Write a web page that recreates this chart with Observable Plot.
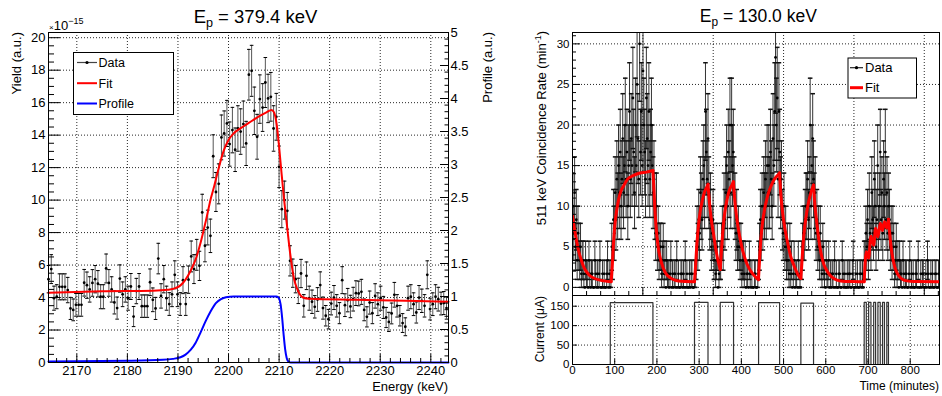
<!DOCTYPE html>
<html>
<head>
<meta charset="utf-8">
<script src="https://cdn.jsdelivr.net/npm/d3@7"></script>
<script src="https://cdn.jsdelivr.net/npm/@observablehq/plot@0.6"></script>
<style>
html,body{margin:0;padding:0;background:#fff;}
#root{position:relative;width:942px;height:396px;overflow:hidden;background:#fff;}
.panel{position:absolute;}
.panel svg{display:block;overflow:visible;}
#overlay{position:absolute;left:0;top:0;pointer-events:none;}
</style>
</head>
<body>
<div id="root"></div>
<script>
const FONT = '"Liberation Sans", Arial, Helvetica, sans-serif';

// ================= LEFT PANEL DATA (Ep = 379.4 keV) =================
const leftTitleEnergy = "379.4 keV";
const energyStart = 2164.4;   // first data bin (keV)
const energyStep = 0.5428;    // bin spacing (keV)
const yieldValues = [
  5.13, 5.75, 3.96, 4.05, 4.66, 4.66, 4.66, 4.46, 3.33, 3.24,
  3.55, 3.55, 3.55, 4.91, 4.76, 4.5, 4.9, 5.13, 4.85, 4.05,
  4.05, 5.79, 4.9, 4.5, 3.7, 3.35, 5.17, 4.2, 4.5, 3.96,
  4.68, 2.83, 4.4, 4.68, 3.47, 3.47, 3.47, 4.94, 3.86, 3.33,
  6.4, 4.1, 5.13, 3.96, 3.6, 4.2, 5.4, 4.2, 3.6, 5.07,
  3.6, 5.1, 6.53, 5.75, 6.63, 5.95, 9.24, 7.19, 8.31, 7.8,
  12.7, 10.5, 11.0, 13.86, 14.1, 14.72, 13.45, 14.31, 13.1, 14.41,
  14.22, 14.68, 13.49, 17.72, 17.96, 15.5, 13.9, 16.22, 15.7, 17.24,
  16.26, 16.36, 14.41, 15.13, 12.05, 9.44, 10.0, 9.34,
  6.26, 5.5, 5.13, 4.41, 5.48, 3.49, 5.34, 3.96, 3.74, 3.43,
  3.88, 4.77, 3.35, 2.88, 2.67, 3.63, 4.0, 3.49, 3.04, 5.07,
  3.53, 3.84, 3.45, 3.9, 4.27, 4.25, 4.35, 3.24, 2.81, 3.69,
  3.04, 4.1, 3.59, 3.96, 3.39, 2.77, 2.5, 3.02, 4.17, 3.49,
  2.88, 2.43, 2.2, 3.96, 4.05, 3.59, 3.08, 4.0, 3.8, 3.49,
  5.4, 3.29, 3.59, 4.05, 3.9, 3.63, 3.66, 3.35
];
const yieldErrors = [
  0.84, 0.89, 0.74, 0.74, 0.8, 0.8, 0.8, 0.78, 0.68, 0.67,
  0.7, 0.7, 0.7, 0.82, 0.81, 0.78, 0.82, 0.84, 0.81, 0.74,
  0.74, 0.89, 0.82, 0.78, 0.71, 0.68, 0.84, 0.76, 0.78, 0.74,
  0.8, 0.62, 0.78, 0.8, 0.69, 0.69, 0.69, 0.82, 0.73, 0.68,
  0.94, 0.75, 0.84, 0.74, 0.7, 0.76, 0.86, 0.76, 0.7, 0.83,
  0.7, 0.84, 0.95, 0.89, 0.95, 0.9, 1.12, 0.99, 1.07, 1.03,
  1.32, 1.2, 1.23, 1.38, 1.39, 1.42, 1.36, 1.4, 1.34, 1.4,
  1.4, 1.42, 1.36, 1.56, 1.57, 1.46, 1.38, 1.49, 1.47, 1.54,
  1.49, 1.5, 1.4, 1.44, 1.28, 1.14, 1.17, 1.13,
  0.93, 0.87, 0.84, 0.78, 0.87, 0.69, 0.85, 0.74, 0.72, 0.69,
  0.73, 0.81, 0.68, 0.63, 0.6, 0.7, 0.74, 0.69, 0.65, 0.83,
  0.7, 0.72, 0.69, 0.73, 0.76, 0.76, 0.77, 0.67, 0.62, 0.71,
  0.65, 0.75, 0.7, 0.74, 0.68, 0.62, 0.59, 0.64, 0.76, 0.69,
  0.63, 0.58, 0.55, 0.74, 0.74, 0.7, 0.65, 0.74, 0.72, 0.69,
  0.86, 0.67, 0.7, 0.74, 0.73, 0.7, 0.71, 0.68
];
// fit curve (energy keV, yield 1e-15)
const yieldFitCurve = [
  [2164.4,4.3],[2175,4.38],[2185,4.42],[2188,4.48],[2189.5,4.58],[2190.5,4.75],[2191.5,5.1],
  [2192.5,5.65],[2193.5,6.35],[2194.5,7.4],[2195.5,8.7],[2196.5,10.1],[2197.2,10.9],[2198,11.9],
  [2199,13.0],[2200,13.7],[2201,14.1],[2202.5,14.45],[2204,14.75],[2206,15.15],[2207.5,15.4],
  [2208.5,15.55],[2209,15.4],[2209.5,14.7],[2210,13.3],[2210.5,11.6],[2211,10.0],[2211.5,8.6],
  [2212,7.2],[2212.5,6.0],[2213,5.1],[2213.5,4.6],[2214,4.25],[2214.7,4.0],[2216,3.92],
  [2225,3.86],[2235,3.8],[2243.5,3.74]
];
// target profile (energy keV, profile a.u.)
const profileCurve = [
  [2164.4,0.015],[2180,0.025],[2187,0.04],[2189,0.055],[2190.5,0.08],[2191.5,0.12],[2192.5,0.19],
  [2193.5,0.3],[2194.5,0.46],[2195.5,0.63],[2196.5,0.78],[2197.5,0.9],[2198.5,0.96],[2199.5,0.99],
  [2201,1.0],[2209.5,1.0],[2210,0.97],[2210.3,0.88],[2210.6,0.68],[2210.9,0.42],[2211.2,0.2],
  [2211.5,0.07],[2211.9,0.01],[2212.3,0],[2243.5,0]
];
const energyDomain = [2164.4, 2243.5];
const yieldDomain = [0, 20.32];
const profileMax = 5;
const energyTicks = [2170, 2180, 2190, 2200, 2210, 2220, 2230, 2240];
const yieldTicks = [0, 2, 4, 6, 8, 10, 12, 14, 16, 18, 20];
const profileTicks = [0, 0.5, 1, 1.5, 2, 2.5, 3, 3.5, 4, 4.5, 5];

// ================= RIGHT PANEL DATA (Ep = 130.0 keV) =================
const rightTitleEnergy = "130.0 keV";
const binMinutes = 2;        // time bin width (min)
const liveMinutes = 0.6;     // counting time per bin (min)
// counts per bin, grouped by beam-on / beam-off periods
const countsOff0 = [6,4,7,3,5,2,4,3,2,3, 1,2,2,1,0,2,1,1,0,2, 1,0,1,1,0,0,2,1,0,1, 0,1,2,0,0,1,0,1,0,0, 1,2,0,1,0];
const countsOn1  = [1,3,2,5,4,7,5,8,6,9, 7,10,6,8,11,7,9,12,8,10, 6,9,13,8,11,9,14,10,7,12, 9,15,11,8,18,10,13,9,16,12, 10,8,14,11,9,13,8,10,12,9, 7];
const countsOff1 = [8,6,4,6,3,4,2,3,3,1, 2,3,1,2,0,2,1,1,0,1, 2,0,1,0,1,1,0,2,0,1, 0,0,1,1,0,1,0,2,0,1, 0,0,1,0,1,1,0,0,1];
const countsOn2  = [1,2,4,3,5,4,7,6,5,8,9,7,13,10,8,11];
const countsOff2 = [7,5,6,3,4,5,2,3,1,2,3,0,1,2];
const countsOn3  = [2,3,4,3,6,5,7,9,6,10,8,12,7,12,9,10];
const countsOff3 = [7,6,4,5,3,4,3,2,3,1, 2,2,1,2,0,1,1,0,2,1, 0,1,0,0,1,1,0,0,1];
const countsOn4  = [2,3,5,4,6,5,7,6,8,6, 9,7,9,7,10,8,6,11,9,13, 17,12,14,8,13,10];
const countsOff4 = [7,8,5,4,6,3,4,2,3,2, 1,3,1,2,0,1,2,0,1,1, 0,2,0,1,0];
const countsOn5  = [2,3,4,4,5,6,6,8,5,7,12,6,9,11,8];
const countsOff5 = [6,7,4,5,3,4,2,4,2,1, 3,2,1,0,2,1,1,2,0,1, 0,1,1,0,2,0,1,0,0,1, 1,0,0,2,1,0,1,0,0,1, 0,1,1,0,0,1,2,0,0,1, 0,1,0,0,1,1,0,1,0,2];
const countsPulsed = [2,4,3,5,2,6,4,3,7,5, 4,8,6,3,5,9,4,6,10,5, 7,4,8,6,10,5,7,4,6];
const countsOff6 = [5,3,4,2,4,3,1,2,3,1, 2,0,2,1,1,0,2,1,0,1, 1,0,0,1,2,0,1,0,1,0, 0,1,1,0,2,0,0,1,0,1, 1,0,0,1,0,2,1,0,0,1, 0,1,0,0,1,1,0,0,1,0];
const countSegments = [countsOff0, countsOn1, countsOff1, countsOn2, countsOff2, countsOn3, countsOff3,
  countsOn4, countsOff4, countsOn5, countsOff5, countsPulsed, countsOff6];

// fit curve pieces [time min, rate 1/min]
const fitOff0 = [[0,8.8],[4,7.4],[8,6.2],[12,5.1],[16,4.2],[20,3.5],[26,2.6],[32,2.0],[40,1.5],[50,1.15],[60,0.95],[75,0.8],[91.5,0.7]];
const fitOn1 = [[91.5,0.7],[94,2.5],[97,5.3],[101,8.0],[105,9.6],[110,11.0],[115,11.9],[120,12.4],[130,13.3],[145,13.8],[160,14.1],[175,14.2],[190.5,14.4]];
const fitOff1 = [[190.5,14.4],[193,12.0],[196,8.9],[200,6.3],[204,4.6],[208,3.6],[214,2.5],[220,1.8],[231,1.2],[245,0.85],[260,0.75],[289,0.7]];
const fitOn2 = [[289,0.7],[291.5,2.6],[294.5,5.2],[298.5,7.7],[302.5,9.3],[307.5,10.7],[312.5,11.7],[317.5,12.3],[321,12.7]];
const fitOff2 = [[321,12.7],[323,11.3],[326,9.6],[330,7.9],[334,6.6],[338,5.2],[342,4.0],[346,3.0],[350,2.2]];
const fitOn3 = [[350,2.2],[352.5,4.3],[355.5,6.5],[359.5,8.7],[363.5,10.1],[368.5,11.4],[373.5,12.2],[378.5,12.7],[381,13.0]];
const fitOff3 = [[381,13.0],[384,11.0],[388,9.0],[392,7.5],[396,6.3],[401,5.0],[406,4.0],[411,3.2],[416,2.6],[421,2.1],[428,1.6],[435,1.2],[440.5,0.95]];
const fitOn4 = [[440.5,0.95],[443,3.3],[446,5.8],[450,7.9],[455,9.6],[460,10.8],[466,11.9],[472,12.7],[478,13.3],[484,13.7],[490.5,14.1]];
const fitOff4 = [[490.5,14.1],[493,11.8],[496,10.0],[500,8.3],[504,7.0],[508,5.9],[512,4.9],[517,3.8],[523,2.9],[530,2.0],[536,1.4],[541,1.1]];
const fitOn5 = [[541,1.1],[543.5,3.2],[546.5,5.5],[550,7.4],[555,9.3],[560,10.7],[565,11.7],[571,12.6]];
const fitOff5 = [[571,12.6],[574,10.3],[578,8.3],[582,6.5],[586,5.0],[590,3.9],[595,2.9],[602,2.1],[610,1.5],[620,1.05],[635,0.8],[660,0.72],[691,0.7]];
const fitPulsed = [[691,0.7],[696,4.4],[701.5,3.6],[707,6.3],[713.5,5.2],[718,7.3],[723.5,6.2],[729,7.9],[734.5,7.0],[739,8.1],[744.5,7.3],[748.5,8.4]];
const fitOff6 = [[748.5,8.4],[751,6.9],[754,5.3],[757,4.1],[761,3.0],[766,2.1],[772,1.5],[780,1.05],[792,0.8],[810,0.72],[869.4,0.7]];
const fitSegments = [fitOff0, fitOn1, fitOff1, fitOn2, fitOff2, fitOn3, fitOff3, fitOn4, fitOff4, fitOn5, fitOff5, fitPulsed, fitOff6];

// beam current (step changes)
const currentTimes  = [0, 89.5, 190.5, 289, 321, 350, 381.5, 440.8, 490.6, 541, 571, 691, 696, 701.5, 707, 713.5, 718, 723.5, 729, 734.5, 739, 744.5, 748.5, 869.4];
const currentValues = [0, 159, 0, 160, 0, 160, 0, 159, 0, 158, 0, 160, 0, 160, 0, 160, 0, 160, 0, 160, 0, 160, 0, 0];

const timeDomain = [0, 869.4];
const rateDomain = [-1, 31.4];
const currentDomain = [0, 177.5];
const rateTicks = [0, 5, 10, 15, 20, 25, 30];
const timeTicks = [0, 100, 200, 300, 400, 500, 600, 700, 800];
const currentTicks = [0, 50, 100, 150];
const gridSeconds = [10000, 20000, 30000, 40000, 50000]; // upper pad's own (seconds) axis

// ================= DERIVED TABLES =================
const yieldData = yieldValues.map((v, i) => ({
  e: energyStart + i * energyStep, y: v, lo: v - yieldErrors[i], hi: v + yieldErrors[i]
}));
const kProf = yieldDomain[1] / profileMax;
const counts = countSegments.flat();
const rateData = counts.map((n, i) => ({
  t: binMinutes * (i + 0.5), n,
  r: n / liveMinutes,
  lo: (n - Math.sqrt(n)) / liveMinutes,
  hi: (n + Math.sqrt(n)) / liveMinutes
}));
const rateNonZero = rateData.filter(d => d.n > 0);
const fitRate = fitSegments.flatMap((seg, s) => seg.map(([t, r]) => ({s, t, r})));
const currentData = currentTimes.map((t, i) => ({t, c: currentValues[i]}));

const energyMinor = d3.range(2166, 2244, 2).filter(v => v % 10 !== 0);
const yieldMinor = d3.range(0, 41).map(i => i / 2).filter(v => v % 2 !== 0);
const profileMinor = d3.range(0, 51).filter(i => i % 5 !== 0).map(i => i / 10 * kProf);
const rateMinor = d3.range(-1, 32).filter(v => v % 5 !== 0);
const secondsMinor = d3.range(2000, 52001, 2000).filter(s => s % 10000 !== 0);

const cap = {draw(ctx, size) { const w = Math.sqrt(size / Math.PI); ctx.moveTo(-w, 0); ctx.lineTo(w, 0); }};
const dotted = {stroke: "#000", strokeOpacity: 0.85, strokeDasharray: "1,2", strokeWidth: 1};
const noText = () => "";
const plain = d => String(d);
const baseStyle = {fontFamily: FONT, fontSize: "13px", color: "#000", background: "transparent", overflow: "visible"};

// ================= LEFT PLOT =================
const leftPlot = Plot.plot({
  width: 500, height: 396,
  marginLeft: 48, marginRight: 52, marginTop: 32, marginBottom: 34,
  x: {domain: energyDomain, axis: null, label: null},
  y: {domain: yieldDomain, axis: null, label: null},
  style: baseStyle,
  marks: [
    Plot.gridX(energyTicks, dotted),
    Plot.gridY(yieldTicks.filter(v => v > 0 && v < 20.3), dotted),
    Plot.ruleX(yieldData, {x: "e", y1: "lo", y2: "hi", stroke: "#555", strokeWidth: 1}),
    Plot.dot(yieldData, {x: "e", y: "lo", symbol: cap, r: 1.8, stroke: "#000", fill: "none", strokeWidth: 1}),
    Plot.dot(yieldData, {x: "e", y: "hi", symbol: cap, r: 1.8, stroke: "#000", fill: "none", strokeWidth: 1}),
    Plot.dot(yieldData, {x: "e", y: "y", r: 1.4, fill: "#000", stroke: "none"}),
    Plot.line(yieldFitCurve, {x: d => d[0], y: d => d[1], stroke: "#ff0000", strokeWidth: 2, curve: "monotone-x"}),
    Plot.line(profileCurve, {x: d => d[0], y: d => d[1] * kProf, stroke: "#0000ff", strokeWidth: 2, curve: "monotone-x"}),
    Plot.frame({stroke: "#000", strokeWidth: 1}),
    Plot.axisX(energyTicks, {anchor: "bottom", tickSize: 0, tickPadding: 3, fontSize: 13, label: null, tickFormat: plain}),
    Plot.axisX(energyTicks, {anchor: "bottom", tickSize: -8, tickFormat: noText, label: null}),
    Plot.axisX(energyMinor, {anchor: "bottom", tickSize: -4, tickFormat: noText, label: null}),
    Plot.axisY(yieldTicks, {anchor: "left", tickSize: 0, tickPadding: 3, fontSize: 13, label: null, tickFormat: plain}),
    Plot.axisY(yieldTicks, {anchor: "left", tickSize: -12, tickFormat: noText, label: null}),
    Plot.axisY(yieldMinor, {anchor: "left", tickSize: -6, tickFormat: noText, label: null}),
    Plot.axisY(profileTicks.map(p => p * kProf), {anchor: "right", tickSize: 0, tickPadding: 2, fontSize: 13, label: null,
      tickFormat: d => String(+(d / kProf).toFixed(2))}),
    Plot.axisY(profileTicks.map(p => p * kProf), {anchor: "right", tickSize: -9, tickFormat: noText, label: null}),
    Plot.axisY(profileMinor, {anchor: "right", tickSize: -4.5, tickFormat: noText, label: null})
  ]
});

// ================= RIGHT TOP PLOT =================
const rightTop = Plot.plot({
  width: 442, height: 296,
  marginLeft: 72, marginRight: 3, marginTop: 32, marginBottom: 1,
  x: {domain: timeDomain, axis: null, label: null},
  y: {domain: rateDomain, axis: null, label: null},
  style: baseStyle,
  marks: [
    Plot.gridX(gridSeconds.map(s => s / 60), dotted),
    Plot.gridY(rateTicks, dotted),
    Plot.ruleX(rateNonZero, {x: "t", y1: "lo", y2: "hi", stroke: "#333", strokeWidth: 1, clip: true}),
    Plot.dot(rateNonZero, {x: "t", y: "lo", symbol: cap, r: 2.3, stroke: "#111", fill: "none", clip: true}),
    Plot.dot(rateNonZero, {x: "t", y: "hi", symbol: cap, r: 2.3, stroke: "#111", fill: "none", clip: true}),
    Plot.dot(rateData, {x: "t", y: "r", r: 1.4, fill: "#000", stroke: "none", clip: true}),
    Plot.line(fitRate, {x: "t", y: "r", z: "s", stroke: "#ff0000", strokeWidth: 3, curve: "monotone-x", clip: true}),
    Plot.frame({stroke: "#000", strokeWidth: 1}),
    Plot.axisY(rateTicks, {anchor: "left", tickSize: 0, tickPadding: 3, fontSize: 11.5, label: null, tickFormat: plain}),
    Plot.axisY(rateTicks, {anchor: "left", tickSize: -8, tickFormat: noText, label: null}),
    Plot.axisY(rateMinor, {anchor: "left", tickSize: -4, tickFormat: noText, label: null}),
    Plot.axisX(gridSeconds.map(s => s / 60), {anchor: "bottom", tickSize: -8, tickFormat: noText, label: null}),
    Plot.axisX(secondsMinor.map(s => s / 60), {anchor: "bottom", tickSize: -4, tickFormat: noText, label: null})
  ]
});

// ================= RIGHT BOTTOM PLOT =================
const rightBottom = Plot.plot({
  width: 442, height: 106,
  marginLeft: 72, marginRight: 3, marginTop: 5, marginBottom: 32,
  x: {domain: timeDomain, axis: null, label: null},
  y: {domain: currentDomain, axis: null, label: null},
  style: baseStyle,
  marks: [
    Plot.gridX(timeTicks.filter(t => t > 0), dotted),
    Plot.gridY(currentTicks.filter(c => c > 0), dotted),
    Plot.line(currentData, {x: "t", y: "c", curve: "step-after", stroke: "#333", strokeWidth: 1.2}),
    Plot.frame({stroke: "#000", strokeWidth: 1}),
    Plot.axisX(timeTicks, {anchor: "bottom", tickSize: 0, tickPadding: 1, fontSize: 11.5, label: null, tickFormat: plain}),
    Plot.axisX(timeTicks, {anchor: "bottom", tickSize: -5, tickFormat: noText, label: null}),
    Plot.axisY(currentTicks, {anchor: "left", tickSize: 0, tickPadding: 3, fontSize: 11.5, label: null, tickFormat: plain}),
    Plot.axisY(currentTicks, {anchor: "left", tickSize: -5, tickFormat: noText, label: null})
  ]
});

// ================= ASSEMBLE =================
const root = document.getElementById("root");
function place(node, left, top, w, h) {
  const div = document.createElement("div");
  div.className = "panel";
  div.style.left = left + "px"; div.style.top = top + "px";
  div.style.width = w + "px"; div.style.height = h + "px";
  div.appendChild(node);
  root.appendChild(div);
}
place(leftPlot, 0, 0, 500, 396);
place(rightTop, 500, 0, 442, 296);
place(rightBottom, 500, 290, 442, 106);

// ================= TEXT, TITLES, LEGENDS (overlay) =================
const ov = d3.select(root).append("svg").attr("id", "overlay")
  .attr("width", 942).attr("height", 396)
  .style("font-family", FONT).attr("fill", "#000");

function title(x, y, size, energy) {
  const t = ov.append("text").attr("x", x).attr("y", y).attr("text-anchor", "middle").attr("font-size", size);
  t.append("tspan").text("E");
  t.append("tspan").attr("dy", 3.5).attr("font-size", size * 0.68).text("p");
  t.append("tspan").attr("dy", -3.5).text(" = " + energy);
}
title(255.5, 23.3, 18.5, leftTitleEnergy);
title(758.3, 22.3, 17.5, rightTitleEnergy);

// exponent label
const ex = ov.append("text").attr("x", 49).attr("y", 30).attr("font-size", 13);
ex.append("tspan").attr("font-size", 8).text("×");
ex.append("tspan").text("10");
ex.append("tspan").attr("dy", -6.5).attr("font-size", 9).text("−15");

function vlabel(x, y, size, parts) {
  const t = ov.append("text").attr("transform", `translate(${x},${y}) rotate(-90)`)
    .attr("text-anchor", "end").attr("font-size", size);
  parts(t);
}
vlabel(21, 32, 13, t => t.text("Yield (a.u.)"));
vlabel(492, 32, 13, t => t.text("Profile (a.u.)"));
vlabel(546, 31, 13, t => {
  t.append("tspan").text("511 keV Coincidence Rate (min");
  t.append("tspan").attr("dy", -5).attr("font-size", 9).text("-1");
  t.append("tspan").attr("dy", 5).text(")");
});
vlabel(544, 296, 12, t => t.text("Current (μA)"));
ov.append("text").attr("x", 448).attr("y", 391).attr("text-anchor", "end").attr("font-size", 13).text("Energy (keV)");
ov.append("text").attr("x", 939).attr("y", 390).attr("text-anchor", "end").attr("font-size", 12).text("Time (minutes)");

// legends
function legend(x, y, w, h, entries, sw, textX, size) {
  ov.append("rect").attr("x", x + 0.5).attr("y", y + 0.5).attr("width", w).attr("height", h)
    .attr("fill", "#fff").attr("stroke", "#000").attr("stroke-width", 1);
  entries.forEach(en => {
    const g = ov.append("g");
    g.append("line").attr("x1", sw[0]).attr("x2", sw[1]).attr("y1", en.cy).attr("y2", en.cy)
      .attr("stroke", en.color).attr("stroke-width", en.width);
    if (en.dot) g.append("circle").attr("cx", (sw[0] + sw[1]) / 2).attr("cy", en.cy).attr("r", 1.6).attr("fill", "#000");
    g.append("text").attr("x", textX).attr("y", en.cy + size * 0.36).attr("font-size", size).text(en.label);
  });
}
legend(73, 52, 100, 62, [
  {label: "Data", color: "#444", width: 1.2, dot: true, cy: 62.5},
  {label: "Fit", color: "#ff0000", width: 2, cy: 83.2},
  {label: "Profile", color: "#0000ff", width: 2, cy: 103.5}
], [77, 97], 98.5, 12.5);
legend(847.5, 57.5, 68.5, 40, [
  {label: "Data", color: "#222", width: 1.2, dot: true, cy: 67.7},
  {label: "Fit", color: "#ff0000", width: 3, cy: 87.7}
], [850, 863], 865, 13);
</script>
</body>
</html>
